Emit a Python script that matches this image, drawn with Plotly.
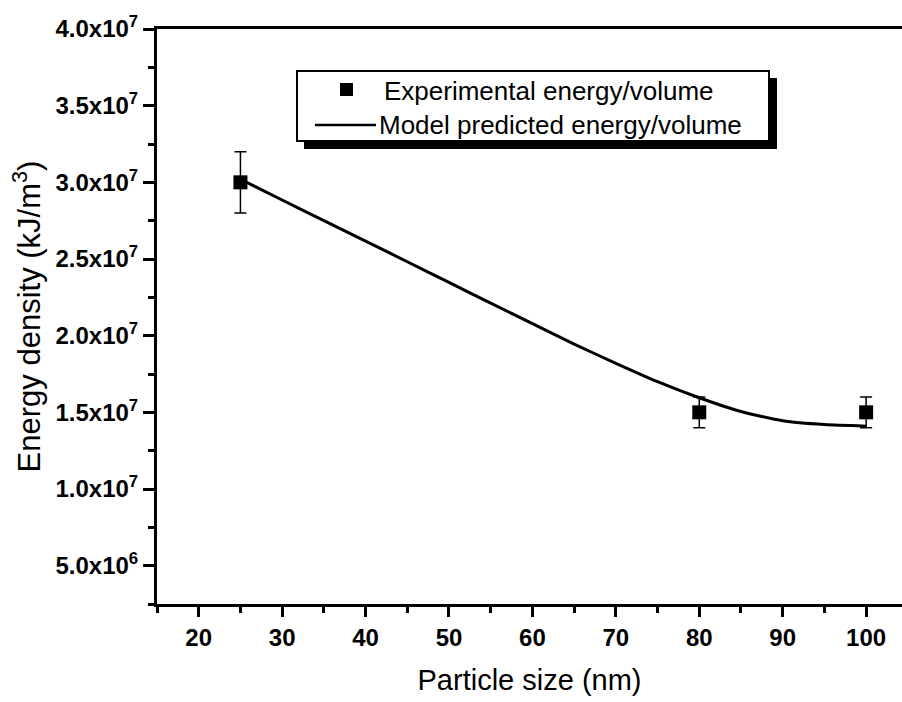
import plotly.graph_objects as go

# Measured energy density per particle size (with error bars)
exp_size_nm = [25, 80, 100]
exp_energy = [3.0e7, 1.5e7, 1.5e7]
exp_error = [2.0e6, 1.0e6, 1.0e6]

# Model prediction sampled along particle size
model_size_nm = [25, 30, 35, 40, 45, 50, 55, 60, 65, 70, 75, 80, 85, 90, 95, 100]
model_energy = [3.02e7, 2.885e7, 2.75e7, 2.617e7, 2.482e7, 2.347e7, 2.212e7, 2.078e7,
                1.945e7, 1.82e7, 1.70e7, 1.595e7, 1.505e7, 1.445e7, 1.42e7, 1.41e7]

y_tick_vals = [5e6, 1e7, 1.5e7, 2e7, 2.5e7, 3e7, 3.5e7, 4e7]
y_tick_text = ["5.0x10<sup>6</sup>", "1.0x10<sup>7</sup>", "1.5x10<sup>7</sup>",
               "2.0x10<sup>7</sup>", "2.5x10<sup>7</sup>", "3.0x10<sup>7</sup>",
               "3.5x10<sup>7</sup>", "4.0x10<sup>7</sup>"]
x_tick_vals = [20, 30, 40, 50, 60, 70, 80, 90, 100]

legend_labels = ["Experimental energy/volume", "Model predicted energy/volume"]

W, H = 902, 702
L, R, T, B = 157, 0, 29, 98
PW, PH = W - L - R, H - T - B

FONT = "Liberation Sans, Arial, sans-serif"


def px(x):
    return (x - L) / PW


def py(y):
    return (H - B - y) / PH


fig = go.Figure()

fig.add_trace(go.Scatter(
    x=model_size_nm, y=model_energy, mode="lines",
    line=dict(color="black", width=3, shape="spline", smoothing=0.6),
    name=legend_labels[1], showlegend=False, hoverinfo="skip",
))

fig.add_trace(go.Scatter(
    x=exp_size_nm, y=exp_energy, mode="markers",
    marker=dict(symbol="square", size=14, color="black"),
    error_y=dict(type="data", array=exp_error, visible=True,
                 color="black", thickness=1.5, width=6),
    name=legend_labels[0], showlegend=False,
))

shapes = []
# legend frame with drop shadow
shapes.append(dict(type="rect", xref="paper", yref="paper",
                   x0=px(304), x1=px(777), y0=py(149), y1=py(78),
                   fillcolor="black", line=dict(width=0), layer="above"))
shapes.append(dict(type="rect", xref="paper", yref="paper",
                   x0=px(297), x1=px(769), y0=py(141), y1=py(71),
                   fillcolor="white", line=dict(color="black", width=2), layer="above"))
# legend symbols
shapes.append(dict(type="rect", xref="paper", yref="paper",
                   x0=px(340), x1=px(353), y0=py(96), y1=py(83),
                   fillcolor="black", line=dict(width=0), layer="above"))
shapes.append(dict(type="line", xref="paper", yref="paper",
                   x0=px(315), x1=px(376), y0=py(125), y1=py(125),
                   line=dict(color="black", width=2.5), layer="above"))

annotations = [
    dict(text=legend_labels[0], xref="paper", yref="paper", x=px(382), y=py(91),
         xanchor="left", yanchor="middle", showarrow=False,
         font=dict(family=FONT, size=26, color="black")),
    dict(text=legend_labels[1], xref="paper", yref="paper", x=px(377), y=py(125),
         xanchor="left", yanchor="middle", showarrow=False,
         font=dict(family=FONT, size=26, color="black")),
]

fig.update_layout(
    width=W, height=H,
    margin=dict(l=L, r=R, t=T, b=B),
    paper_bgcolor="white", plot_bgcolor="white",
    shapes=shapes, annotations=annotations,
    showlegend=False,
    xaxis=dict(
        range=[15, 104.3],
        tickmode="array", tickvals=x_tick_vals,
        ticks="outside", ticklen=10, tickwidth=2.5, tickcolor="black",
        minor=dict(tickmode="linear", tick0=15, dtick=10, ticks="outside",
                   ticklen=6, tickwidth=2.5, tickcolor="black"),
        showline=True, linecolor="black", linewidth=3, mirror=True,
        showgrid=False, zeroline=False,
        tickfont=dict(family=FONT, size=24, color="black", weight="bold"),
        title=dict(text="Particle size (nm)", standoff=20,
                   font=dict(family=FONT, size=29, color="black")),
    ),
    yaxis=dict(
        range=[2.5e6, 4.0e7],
        tickmode="array", tickvals=y_tick_vals, ticktext=y_tick_text,
        ticks="outside", ticklen=11, tickwidth=2.5, tickcolor="black",
        minor=dict(tickmode="linear", tick0=2.5e6, dtick=5e6, ticks="outside",
                   ticklen=6, tickwidth=2.5, tickcolor="black"),
        showline=True, linecolor="black", linewidth=3, mirror=False,
        showgrid=False, zeroline=False,
        tickfont=dict(family=FONT, size=24, color="black", weight="bold"),
        title=dict(text="Energy density (kJ/m<sup>3</sup>)", standoff=6,
                   font=dict(family=FONT, size=31, color="black")),
    ),
)

fig.write_html("out.html")
